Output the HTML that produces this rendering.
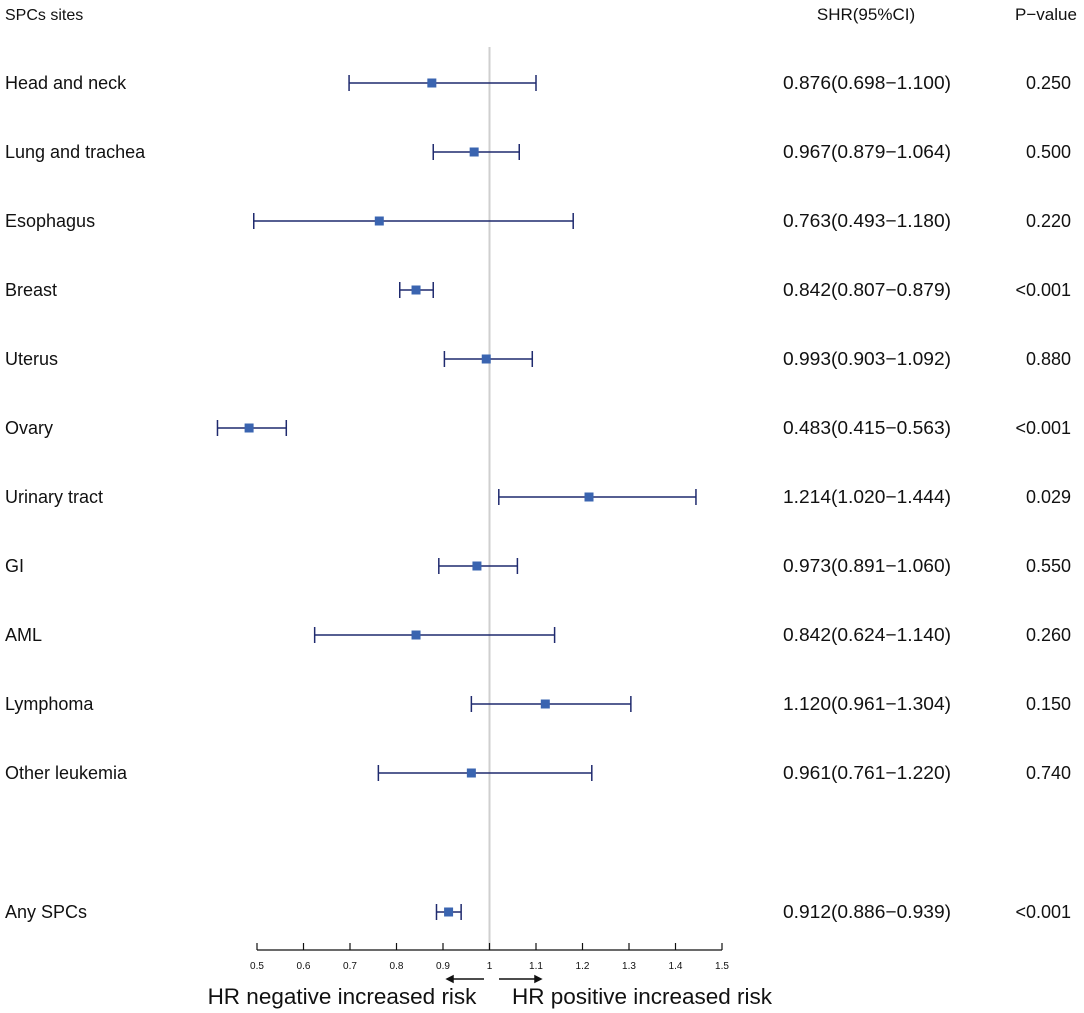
<!DOCTYPE html>
<html><head><meta charset="utf-8"><style>
body{margin:0;background:#fff;width:1084px;height:1013px;overflow:hidden}
svg{display:block;font-family:"Liberation Sans",sans-serif}
</style></head><body>
<svg id="chart" width="1084" height="1013" viewBox="0 0 1084 1013"></svg>
<script>
const sites = ["Head and neck","Lung and trachea","Esophagus","Breast","Uterus","Ovary","Urinary tract","GI","AML","Lymphoma","Other leukemia","Any SPCs"];
const shr = [0.876,0.967,0.763,0.842,0.993,0.483,1.214,0.973,0.842,1.120,0.961,0.912];
const lower = [0.698,0.879,0.493,0.807,0.903,0.415,1.020,0.891,0.624,0.961,0.761,0.886];
const upper = [1.100,1.064,1.180,0.879,1.092,0.563,1.444,1.060,1.140,1.304,1.220,0.939];
const shrText = ["0.876(0.698\u22121.100)","0.967(0.879\u22121.064)","0.763(0.493\u22121.180)","0.842(0.807\u22120.879)","0.993(0.903\u22121.092)","0.483(0.415\u22120.563)","1.214(1.020\u22121.444)","0.973(0.891\u22121.060)","0.842(0.624\u22121.140)","1.120(0.961\u22121.304)","0.961(0.761\u22121.220)","0.912(0.886\u22120.939)"];
const pvals = ["0.250","0.500","0.220","<0.001","0.880","<0.001","0.029","0.550","0.260","0.150","0.740","<0.001"];
const rowPos = [0,1,2,3,4,5,6,7,8,9,10,12];
const ticks = [0.5,0.6,0.7,0.8,0.9,1,1.1,1.2,1.3,1.4,1.5];
const tickLabels = ["0.5","0.6","0.7","0.8","0.9","1","1.1","1.2","1.3","1.4","1.5"];

const svg = document.getElementById('chart');
const NS = 'http://www.w3.org/2000/svg';
const x = v => 257 + (v - 0.5) * 465;
const yRow = i => rowPos[i] === 12 ? 912 : 83 + rowPos[i] * 69;
function mk(tag, attrs, text){
  const e = document.createElementNS(NS, tag);
  for (const k in attrs) e.setAttribute(k, attrs[k]);
  if (text !== undefined) e.textContent = text;
  svg.appendChild(e);
  return e;
}
const axisY = 950;
let e;
e = mk('line',{x1:x(1),x2:x(1),y1:47,y2:axisY,stroke:'#cfcfcf','stroke-width':2});



e = mk('text',{x:5,y:20,'font-size':16,fill:'#111'},'SPCs sites');


e = mk('text',{x:866,y:20,'font-size':17,fill:'#111','text-anchor':'middle'},'SHR(95%CI)');


e = mk('text',{x:1046,y:20,'font-size':17,fill:'#111','text-anchor':'middle'},'P\u2212value');



sites.forEach((s,i)=>{
  const yy = yRow(i);
  let t = mk('text',{x:5,y:yy+6,'font-size':18,fill:'#111'},s);
  
  
  t = mk('text',{x:783,y:yy+6,'font-size':18.5,fill:'#111',textLength:168,lengthAdjust:'spacingAndGlyphs'},shrText[i]);
  
  
  t = mk('text',{x:1071,y:yy+6,'font-size':18,fill:'#111','text-anchor':'end'},pvals[i]);
  
  
  let l = mk('line',{x1:x(lower[i]),x2:x(upper[i]),y1:yy,y2:yy,stroke:'#1f2a6e','stroke-width':1.5});
  
  
  [lower[i],upper[i]].forEach(v=>{
    const c = mk('line',{x1:x(v),x2:x(v),y1:yy-8,y2:yy+8,stroke:'#1f2a6e','stroke-width':1.5});
    
    
  });
  const m = mk('rect',{x:x(shr[i])-4.5,y:yy-4.5,width:9,height:9,fill:'#3a64b0'});
  
  
});

e = mk('line',{x1:x(0.5),x2:x(1.5),y1:axisY,y2:axisY,stroke:'#111','stroke-width':1.2});


ticks.forEach((v,i)=>{
  let t = mk('line',{x1:x(v),x2:x(v),y1:axisY-7,y2:axisY,stroke:'#111','stroke-width':1.2});
  
  
  t = mk('text',{x:x(v),y:axisY+19,'font-size':10,fill:'#111','text-anchor':'middle'},tickLabels[i]);
  
  
});
e = mk('path',{d:'M484 979 H447 M447 979 l6 -3 v6 z',stroke:'#111','stroke-width':1.5,fill:'#111'});


e = mk('path',{d:'M499 979 H541 M541 979 l-6 -3 v6 z',stroke:'#111','stroke-width':1.5,fill:'#111'});


e = mk('text',{x:342,y:1004,'font-size':22.5,fill:'#111','text-anchor':'middle'},'HR negative increased risk');


e = mk('text',{x:642,y:1004,'font-size':22.5,fill:'#111','text-anchor':'middle'},'HR positive increased risk');


</script>
</body></html>
